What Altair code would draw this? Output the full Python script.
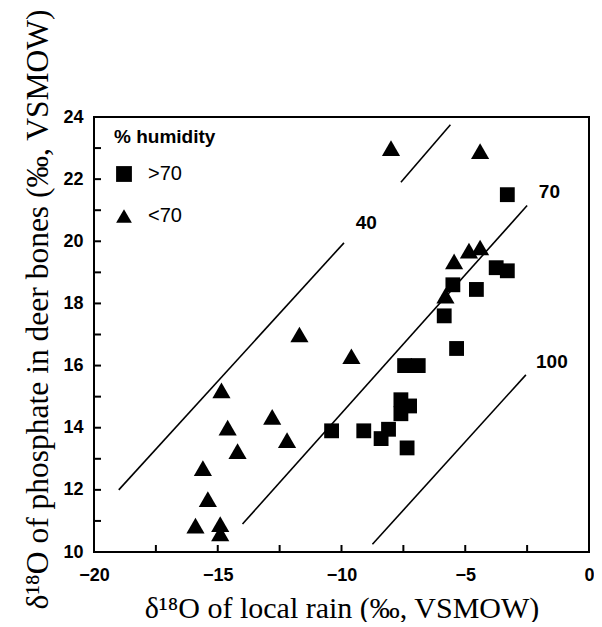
import altair as alt
import pandas as pd

# Triangles: humidity < 70
tri_x = [-8.0, -4.4, -4.85, -4.4, -5.45, -5.8, -11.7, -9.6, -14.85, -12.8,
         -14.6, -12.2, -14.2, -15.6, -15.4, -15.9, -14.9, -14.9]
tri_y = [23.0, 22.9, 19.7, 19.8, 19.35, 18.25, 17.0, 16.3, 15.2, 14.35,
         14.0, 13.6, 13.25, 12.7, 11.7, 10.85, 10.9, 10.6]
# Squares: humidity > 70
sq_x = [-3.3, -3.75, -3.3, -5.5, -4.55, -5.85, -5.35, -7.45, -6.9, -7.6,
        -7.6, -7.25, -10.4, -9.1, -8.1, -8.4, -7.35]
sq_y = [21.5, 19.15, 19.05, 18.6, 18.45, 17.6, 16.55, 16.0, 16.0, 14.9,
        14.45, 14.7, 13.9, 13.9, 13.95, 13.65, 13.35]

# Iso-humidity lines
line_id = ["40a", "40a", "40b", "40b", "70", "70", "100", "100"]
line_x = [-19.0, -9.9, -7.6, -5.6, -14.0, -2.5, -8.75, -2.55]
line_y = [12.0, 19.95, 21.9, 23.75, 10.9, 21.15, 10.25, 15.7]

label_text = ["40", "70", "100"]
label_x = [-9.0, -1.6, -1.5]
label_y = [20.6, 21.6, 16.1]

x_ticks = [-20, -17.5, -15, -12.5, -10, -7.5, -5, -2.5, 0]
y_ticks = list(range(10, 25))
x_labels = [-20, -15, -10, -5, 0]
y_labels = [10, 12, 14, 16, 18, 20, 22, 24]

X_DOM = [-20, 0]
Y_DOM = [10, 24]
W, H = 495, 435
TICK_PX = 7
tick_dy = TICK_PX * (Y_DOM[1] - Y_DOM[0]) / H
tick_dx = TICK_PX * (X_DOM[1] - X_DOM[0]) / W

sq = pd.DataFrame({"x": sq_x, "y": sq_y, "grp": [">70"] * len(sq_x)})
tri = pd.DataFrame({"x": tri_x, "y": tri_y, "grp": ["<70"] * len(tri_x)})
lines = pd.DataFrame({"x": line_x, "y": line_y, "id": line_id})
labels = pd.DataFrame({"x": label_x, "y": label_y, "t": label_text})
xt = pd.DataFrame({"x": x_ticks,
                   "y": [Y_DOM[0]] * len(x_ticks),
                   "y2": [Y_DOM[0] + tick_dy] * len(x_ticks)})
yt = pd.DataFrame({"y": y_ticks,
                   "x": [X_DOM[0]] * len(y_ticks),
                   "x2": [X_DOM[0] + tick_dx] * len(y_ticks)})

XT = "δ¹⁸O of local rain (‰, VSMOW)"
YT = "δ¹⁸O of phosphate in deer bones (‰, VSMOW)"

xscale = alt.Scale(domain=X_DOM, nice=False, zero=False)
yscale = alt.Scale(domain=Y_DOM, nice=False, zero=False)

xaxis = alt.Axis(values=x_labels, ticks=False, grid=False, domain=False, labelFlush=False,
                 labelFont="Liberation Sans", labelFontSize=18, labelFontWeight="bold",
                 labelColor="black", labelPadding=14,
                 titleFont="Liberation Serif", titleFontSize=30, titleFontWeight="normal",
                 titleColor="black", titleBaseline="alphabetic", titleY=65)
yaxis = alt.Axis(values=y_labels, ticks=False, grid=False, domain=False, labelFlush=False,
                 labelFont="Liberation Sans", labelFontSize=18, labelFontWeight="bold",
                 labelColor="black", labelPadding=11,
                 titleFont="Liberation Serif", titleFontSize=31.5, titleFontWeight="normal",
                 titleColor="black", titleAngle=-90, titleBaseline="alphabetic",
                 titleAlign="center", titleX=-47, titleY=192)

X = alt.X("x:Q", scale=xscale, axis=xaxis, title=XT)
Y = alt.Y("y:Q", scale=yscale, axis=yaxis, title=YT)

shape_scale = alt.Scale(domain=[">70", "<70"], range=["square", "triangle-up"])
legend = alt.Legend(title="% humidity", orient="none", legendX=20, legendY=11,
                    titleFont="Liberation Sans", titleFontSize=19,
                    titleFontWeight="bold", titleColor="black",
                    titlePadding=17, padding=0,
                    labelFont="Liberation Sans", labelFontSize=20,
                    labelColor="black", labelOffset=14,
                    symbolSize=250, symbolFillColor="black",
                    symbolStrokeColor="black", symbolStrokeWidth=0,
                    rowPadding=22)

iso = alt.Chart(lines).mark_line(color="black", strokeWidth=1.6).encode(
    x=X, y=Y, detail="id:N",
)

xtick = alt.Chart(xt).mark_rule(color="black", strokeWidth=2, opacity=1).encode(
    x=X, y=Y, y2="y2:Q",
)
ytick = alt.Chart(yt).mark_rule(color="black", strokeWidth=2, opacity=1).encode(
    x=X, x2="x2:Q", y=Y,
)

sq_layer = alt.Chart(sq).mark_point(filled=True, opacity=1, color="black", size=220).encode(
    x=X, y=Y,
    shape=alt.Shape("grp:N", scale=shape_scale, legend=legend),
)
tri_layer = alt.Chart(tri).mark_point(filled=True, opacity=1, color="black", size=330).encode(
    x=X, y=Y,
    shape=alt.Shape("grp:N", scale=shape_scale, legend=legend),
)

txt = alt.Chart(labels).mark_text(font="Liberation Sans", fontSize=19, fontWeight="bold",
                                  color="black", align="center", baseline="middle").encode(
    x=X, y=Y, text="t:N",
)

chart = alt.layer(iso, sq_layer, tri_layer, txt, xtick, ytick).properties(
    width=W, height=H,
    autosize=alt.AutoSizeParams(type="none"),
    padding={"left": 86, "top": 109, "right": 5, "bottom": 70},
    background="white",
).configure_view(stroke="black", strokeWidth=2)

chart.save("out.html", embed_options={"renderer": "svg", "actions": False})
